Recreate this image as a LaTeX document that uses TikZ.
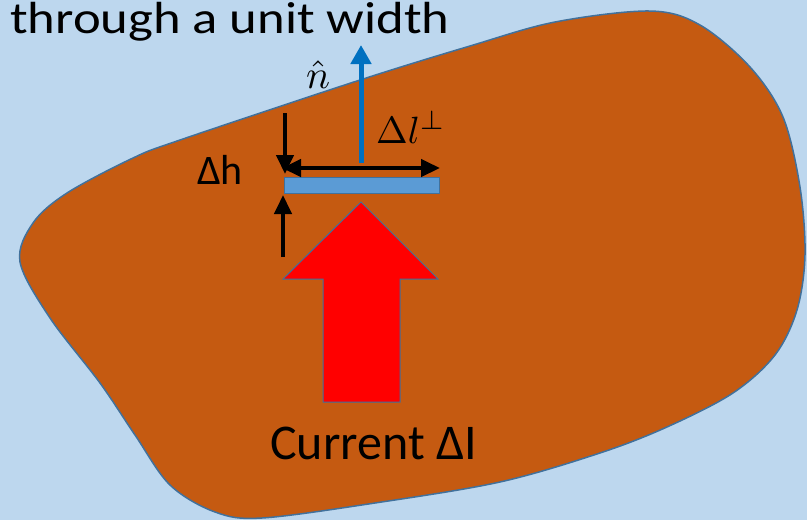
\documentclass[tikz,border=0pt]{standalone}
\usepackage{fontspec}
\setmainfont{Carlito}
\newfontfamily\widefont[FakeStretch=1.17]{Carlito}
\usetikzlibrary{arrows.meta}
\definecolor{bg}{HTML}{BDD7EE}
\definecolor{blob}{HTML}{C55A11}
\definecolor{edge}{HTML}{41719C}
\definecolor{barblue}{HTML}{5B9BD5}
\definecolor{nblue}{HTML}{0070C0}
\tikzset{
  lbl/.style={inner sep=0pt, anchor=base west, text=black},
  blackarrow/.style={line width=4.5pt, -{Triangle[length=19pt,width=17pt]}},
  dblarrow/.style={line width=4.5pt, {Triangle[length=19pt,width=17pt]}-{Triangle[length=19pt,width=17pt]}},
  narrow/.style={nblue, line width=5pt, -{Triangle[length=19pt,width=20pt]}},
}
\begin{document}
\begin{tikzpicture}[x=1pt,y=-1pt]
\fill[bg] (0,0) rectangle (807,520);
\useasboundingbox (0,0) rectangle (807,520);
% blob
\draw[edge, fill=blob, line width=1.5pt] plot[smooth cycle, tension=0.55] coordinates {
 (20,262) (50,318) (100,383) (135,435) (170,485) (215,512) (262,518) (375,503)
 (500,482) (600,453) (667,427) (733,393) (775,355) (797,310) (805,255) (800,187)
 (783,117) (750,67) (700,25) (650,11) (555,22) (470,46) (360,80) (180,140)
 (133,158) (67,193) (33,223)};
% red current arrow
\draw[edge, fill=red, line width=1pt] (361,202) -- (438,279) -- (400,279) -- (400,402)
  -- (323,402) -- (323,279) -- (283,279) -- cycle;
% bar
\node[draw=edge, fill=barblue, line width=1pt, minimum width=155pt, minimum height=16pt,
  inner sep=0pt, anchor=north west] (bar) at (284,177) {};
% coordinates
\coordinate (dl) at (282,168);
\coordinate (dr) at (440,168);
\coordinate (nb) at (361,163);
\coordinate (nt) at (361,45);
\coordinate (ht) at (285,113);
\coordinate (htip) at (285,174);
\coordinate (hb) at (283,257);
\coordinate (hbtip) at (283,195);
\draw[dblarrow] (dl) -- (dr);
\draw[narrow] (nb) -- (nt);
\draw[blackarrow] (ht) -- (htip);
\draw[blackarrow] (hb) -- (hbtip);
% labels
\node[lbl] (title) at (10,33) {\widefont\fontsize{45}{54}\selectfont through a unit width};
\node[lbl] (cur) at (270,459) {\fontsize{50}{60}\selectfont Current ΔI};
\node[lbl] (dh) at (197,184) {\fontsize{42}{50}\selectfont Δh};
\node[lbl] (dlp) at (376,143) {\scalebox{3.8}{$\Delta l^{\perp}$}};
\node[lbl] (nhat) at (306,88) {\scalebox{4}{$\hat{n}$}};
\end{tikzpicture}
\end{document}
